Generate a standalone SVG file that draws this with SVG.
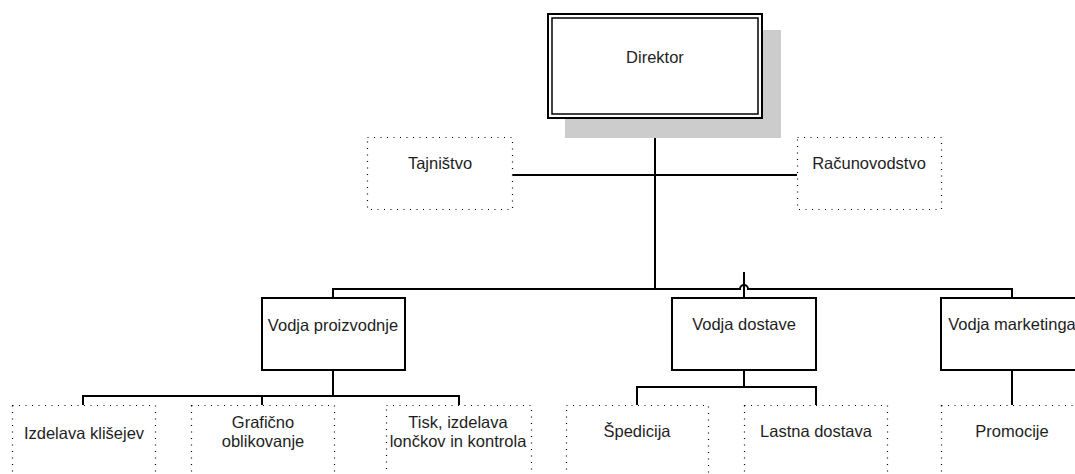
<svg xmlns="http://www.w3.org/2000/svg" width="1075" height="474" viewBox="0 0 1075 474">
<style>
.t{font-family:"Liberation Sans",Arial,sans-serif;font-size:16.5px;fill:#1e1e1e;text-anchor:middle;dominant-baseline:central}
.solid{fill:#fff;stroke:#000;stroke-width:2}
.dot{fill:#fff;stroke:#000;stroke-width:1.2;stroke-dasharray:1 5.5}
.c{fill:none;stroke:#000;stroke-width:2}
</style>
<rect x="0" y="0" width="1075" height="474" fill="#fff"/>
<g id="connectors">
<path class="c" d="M655 118 V289"/>
<path class="c" d="M512 175 H797"/>
<path class="c" d="M333 298 V289 H740 A4 4 0 0 1 748 289 H1012 V298"/>
<path class="c" d="M744 272 V298"/>
<path class="c" d="M333 370 V396"/>
<path class="c" d="M83 405 V396 H459 V405"/>
<path class="c" d="M262 396 V405"/>
<path class="c" d="M744 370 V387"/>
<path class="c" d="M637 405 V387 H816 V405"/>
<path class="c" d="M1012 370 V405"/>
</g>
<g id="direktor">
<rect x="565" y="30" width="216" height="108" fill="#cccccc"/>
<rect x="548" y="14" width="214" height="104" class="solid"/>
<rect x="552" y="18" width="206" height="96" fill="none" stroke="#000" stroke-width="1.5"/>
<text class="t" x="655" y="57">Direktor</text>
</g>
<g id="tajnistvo">
<rect x="367.5" y="137.5" width="145" height="72" class="dot"/>
<text class="t" x="440" y="163">Tajništvo</text>
</g>
<g id="racunovodstvo">
<rect x="797.5" y="137.5" width="144" height="72" class="dot"/>
<text class="t" x="869" y="163">Računovodstvo</text>
</g>
<g id="vodja-proizvodnje">
<rect x="262" y="298" width="143" height="72" class="solid"/>
<text class="t" x="333" y="325">Vodja proizvodnje</text>
</g>
<g id="vodja-dostave">
<rect x="672" y="298" width="144" height="72" class="solid"/>
<text class="t" x="744" y="324">Vodja dostave</text>
</g>
<g id="vodja-marketinga">
<rect x="941" y="298" width="143" height="72" class="solid"/>
<text class="t" x="1012" y="324">Vodja marketinga</text>
</g>
<g id="izdelava-klisejev">
<rect x="12.5" y="405.5" width="143" height="72" class="dot"/>
<text class="t" x="84" y="433">Izdelava klišejev</text>
</g>
<g id="graficno-oblikovanje">
<rect x="191.5" y="405.5" width="143" height="72" class="dot"/>
<text class="t" x="263" y="422">Grafično</text>
<text class="t" x="263" y="441">oblikovanje</text>
</g>
<g id="tisk">
<rect x="386.5" y="405.5" width="145" height="72" class="dot"/>
<text class="t" x="458" y="422">Tisk, izdelava</text>
<text class="t" x="458" y="441">lončkov in kontrola</text>
</g>
<g id="spedicija">
<rect x="566.5" y="405.5" width="142" height="72" class="dot"/>
<text class="t" x="637" y="431">Špedicija</text>
</g>
<g id="lastna-dostava">
<rect x="744.5" y="405.5" width="143" height="72" class="dot"/>
<text class="t" x="816" y="431">Lastna dostava</text>
</g>
<g id="promocije">
<rect x="941.5" y="405.5" width="143" height="72" class="dot"/>
<text class="t" x="1012" y="431">Promocije</text>
</g>
</svg>
